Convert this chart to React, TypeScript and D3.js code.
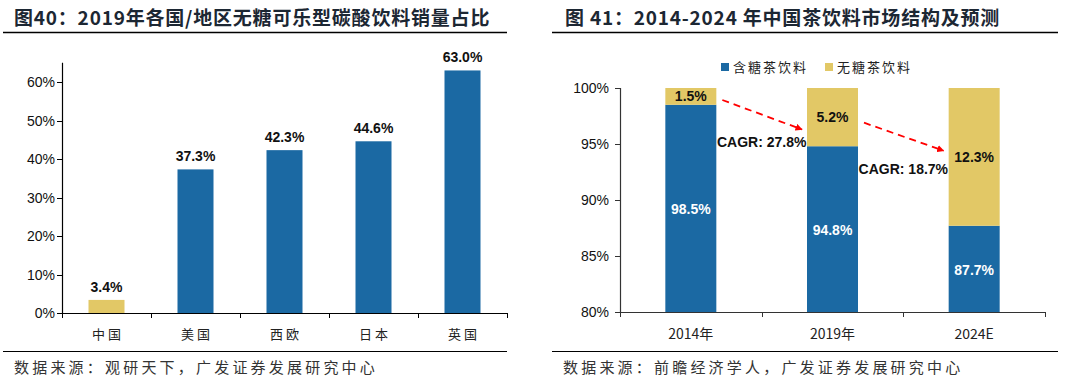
import React, { useEffect, useRef } from "react";
import * as d3 from "d3";

const leftCategories = ["中国", "美国", "西欧", "日本", "英国"];
const leftValues = [3.4, 37.3, 42.3, 44.6, 63.0];
const leftTicks = [0, 10, 20, 30, 40, 50, 60];

const rightYears = ["2014年", "2019年", "2024E"];
const sugarValues = [98.5, 94.8, 87.7];
const sugarFreeValues = [1.5, 5.2, 12.3];
const rightTicks = [80, 85, 90, 95, 100];
const seriesNames = ["含糖茶饮料", "无糖茶饮料"];
const cagrLabels = ["CAGR: 27.8%", "CAGR: 18.7%"];

const BLUE = "#1B69A3";
const YELLOW = "#E2C866";
const CJK = "'Noto Sans CJK SC', 'Liberation Sans', sans-serif";
const LAT = "'Liberation Sans', Arial, sans-serif";

export default function App() {
  const ref = useRef<SVGSVGElement | null>(null);

  useEffect(() => {
    const svg = d3.select(ref.current);
    svg.selectAll("*").remove();

    // ---------- Titles and frames ----------
    const titles = [
      { x: 14, text: "图40：2019年各国/地区无糖可乐型碳酸饮料销量占比", x1: 3, x2: 507 },
      { x: 565, text: "图 41：2014-2024 年中国茶饮料市场结构及预测", x1: 552, x2: 1058 },
    ];
    titles.forEach((t) => {
      svg.append("text").attr("x", t.x).attr("y", 25).text(t.text)
        .attr("font-family", CJK).attr("font-weight", 700).attr("font-size", 19)
        .attr("letter-spacing", 0.8).attr("fill", "#1c2733");
      svg.append("line").attr("x1", t.x1).attr("x2", t.x2).attr("y1", 32.5).attr("y2", 32.5)
        .attr("stroke", "#000").attr("stroke-width", 1.5);
      svg.append("line").attr("x1", t.x1).attr("x2", t.x2).attr("y1", 351.5).attr("y2", 351.5)
        .attr("stroke", "#000").attr("stroke-width", 1.2);
    });
    const sources = [
      { x: 14, text: "数据来源：观研天下，广发证券发展研究中心" },
      { x: 563, text: "数据来源：前瞻经济学人，广发证券发展研究中心" },
    ];
    sources.forEach((s) => {
      svg.append("text").attr("x", s.x).attr("y", 373).text(s.text)
        .attr("font-family", CJK).attr("font-size", 15).attr("letter-spacing", 3.2)
        .attr("fill", "#333");
    });

    // ---------- Left chart ----------
    const lxb = d3.scaleBand<string>().domain(leftCategories).range([62, 507]);
    const ly = d3.scaleLinear().domain([0, 60]).range([313, 82]);
    const L = svg.append("g");

    L.selectAll("rect.bar").data(leftValues).enter().append("rect")
      .attr("x", (_, i) => lxb(leftCategories[i])! + lxb.bandwidth() / 2 - 18)
      .attr("width", 36)
      .attr("y", (d) => ly(d))
      .attr("height", (d) => ly(0) - ly(d))
      .attr("fill", (_, i) => (i === 0 ? YELLOW : BLUE));

    L.selectAll("text.val").data(leftValues).enter().append("text")
      .attr("x", (_, i) => lxb(leftCategories[i])! + lxb.bandwidth() / 2)
      .attr("y", (d) => ly(d) - 8)
      .attr("text-anchor", "middle")
      .attr("font-family", LAT).attr("font-weight", 700).attr("font-size", 14).attr("fill", "#111")
      .text((d) => d.toFixed(1) + "%");

    // y axis
    L.append("line").attr("x1", 62.5).attr("x2", 62.5).attr("y1", ly(65)).attr("y2", 313.5).attr("stroke", "#000").attr("stroke-width", 1.2);
    leftTicks.forEach((t) => {
      L.append("line").attr("x1", 57).attr("x2", 62).attr("y1", Math.round(ly(t)) + 0.5).attr("y2", Math.round(ly(t)) + 0.5).attr("stroke", "#000");
      L.append("text").attr("x", 55).attr("y", ly(t) + 5).attr("text-anchor", "end")
        .attr("font-family", LAT).attr("font-size", 14).attr("fill", "#111").text(t + "%");
    });
    // x axis
    L.append("line").attr("x1", 62).attr("x2", 507).attr("y1", 313.5).attr("y2", 313.5).attr("stroke", "#000").attr("stroke-width", 1.2);
    [...leftCategories.map((c) => lxb(c)!), 507].forEach((x) => {
      L.append("line").attr("x1", Math.round(x) + 0.5).attr("x2", Math.round(x) + 0.5).attr("y1", 313).attr("y2", 318).attr("stroke", "#000");
    });
    leftCategories.forEach((c) => {
      L.append("text").attr("x", lxb(c)! + lxb.bandwidth() / 2 + 1.5).attr("y", 339).attr("text-anchor", "middle")
        .attr("font-family", CJK).attr("font-size", 13).attr("letter-spacing", 3)
        .attr("fill", "#222").text(c);
    });

    // ---------- Right chart ----------
    const rxb = d3.scaleBand<string>().domain(rightYears).range([620, 1045]);
    const ry = d3.scaleLinear().domain([80, 100]).range([312, 88]);
    const R = svg.append("g");
    const bw = 51;
    const barX = (i: number) => rxb(rightYears[i])! + rxb.bandwidth() / 2 - bw / 2;

    rightYears.forEach((y, i) => {
      R.append("rect").attr("x", barX(i)).attr("width", bw)
        .attr("y", ry(sugarValues[i])).attr("height", ry(80) - ry(sugarValues[i])).attr("fill", BLUE);
      R.append("rect").attr("x", barX(i)).attr("width", bw)
        .attr("y", ry(100)).attr("height", ry(sugarValues[i]) - ry(100)).attr("fill", YELLOW);
      const cx = barX(i) + bw / 2;
      R.append("text").attr("x", cx).attr("y", (ry(sugarValues[i]) + ry(80)) / 2 + 6)
        .attr("text-anchor", "middle").attr("font-family", LAT).attr("font-weight", 700)
        .attr("font-size", 14).attr("fill", "#fff").text(sugarValues[i].toFixed(1) + "%");
      R.append("text").attr("x", cx).attr("y", (ry(sugarValues[i]) + ry(100)) / 2 + 5)
        .attr("text-anchor", "middle").attr("font-family", LAT).attr("font-weight", 700)
        .attr("font-size", 14).attr("fill", "#111").text(sugarFreeValues[i].toFixed(1) + "%");
    });

    // y axis
    R.append("line").attr("x1", 620.5).attr("x2", 620.5).attr("y1", 88).attr("y2", 312.5).attr("stroke", "#333").attr("stroke-width", 1.2);
    rightTicks.forEach((t) => {
      R.append("line").attr("x1", 615).attr("x2", 620).attr("y1", Math.round(ry(t)) + 0.5).attr("y2", Math.round(ry(t)) + 0.5).attr("stroke", "#333");
      R.append("text").attr("x", 609).attr("y", ry(t) + 5).attr("text-anchor", "end")
        .attr("font-family", LAT).attr("font-size", 14).attr("fill", "#111").text(t + "%");
    });
    R.append("line").attr("x1", 620).attr("x2", 1045).attr("y1", 312.5).attr("y2", 312.5).attr("stroke", "#333").attr("stroke-width", 1.2);
    [...rightYears.map((c) => rxb(c)!), 1045].forEach((x) => {
      R.append("line").attr("x1", Math.round(x) + 0.5).attr("x2", Math.round(x) + 0.5).attr("y1", 312).attr("y2", 317).attr("stroke", "#333");
    });
    rightYears.forEach((c) => {
      R.append("text").attr("x", rxb(c)! + rxb.bandwidth() / 2).attr("y", 339).attr("text-anchor", "middle")
        .attr("font-family", CJK).attr("font-size", 14).attr("fill", "#222").text(c);
    });

    // legend
    const legend = [
      { x: 721, color: BLUE, name: seriesNames[0] },
      { x: 825, color: YELLOW, name: seriesNames[1] },
    ];
    legend.forEach((l) => {
      R.append("rect").attr("x", l.x).attr("y", 63).attr("width", 8).attr("height", 8).attr("fill", l.color);
      R.append("text").attr("x", l.x + 12).attr("y", 72).attr("font-family", CJK).attr("font-size", 13)
        .attr("letter-spacing", 2).attr("fill", "#222").text(l.name);
    });

    // arrows
    const defs = svg.append("defs");
    defs.append("marker").attr("id", "arrowR").attr("viewBox", "0 0 10 10").attr("refX", 9).attr("refY", 5)
      .attr("markerWidth", 4).attr("markerHeight", 4).attr("orient", "auto")
      .append("path").attr("d", "M0,0 L10,5 L0,10 z").attr("fill", "#ff0000");
    const arrows = [
      { from: 0, to: 1, y0: 98.93, y1: 96.3 },
      { from: 1, to: 2, y0: 96.9, y1: 94.4 },
    ];
    arrows.forEach((a) => {
      R.append("line")
        .attr("x1", barX(a.from) + bw + 6).attr("y1", ry(a.y0))
        .attr("x2", barX(a.to) - 5).attr("y2", ry(a.y1))
        .attr("stroke", "#ff0000").attr("stroke-width", 1.8).attr("stroke-dasharray", "7,5")
        .attr("marker-end", "url(#arrowR)");
    });
    const cagrY = [95.2, 92.8];
    cagrLabels.forEach((t, i) => {
      R.append("text").attr("x", rxb(rightYears[i + 1])!).attr("y", ry(cagrY[i]) + 5)
        .attr("text-anchor", "middle").attr("font-family", LAT).attr("font-weight", 700)
        .attr("font-size", 14).attr("fill", "#111").text(t);
    });
  }, []);

  return (
    <svg ref={ref} width={1080} height={385}
      style={{ position: "absolute", left: 0, top: 0, background: "#fff", display: "block" }} />
  );
}
